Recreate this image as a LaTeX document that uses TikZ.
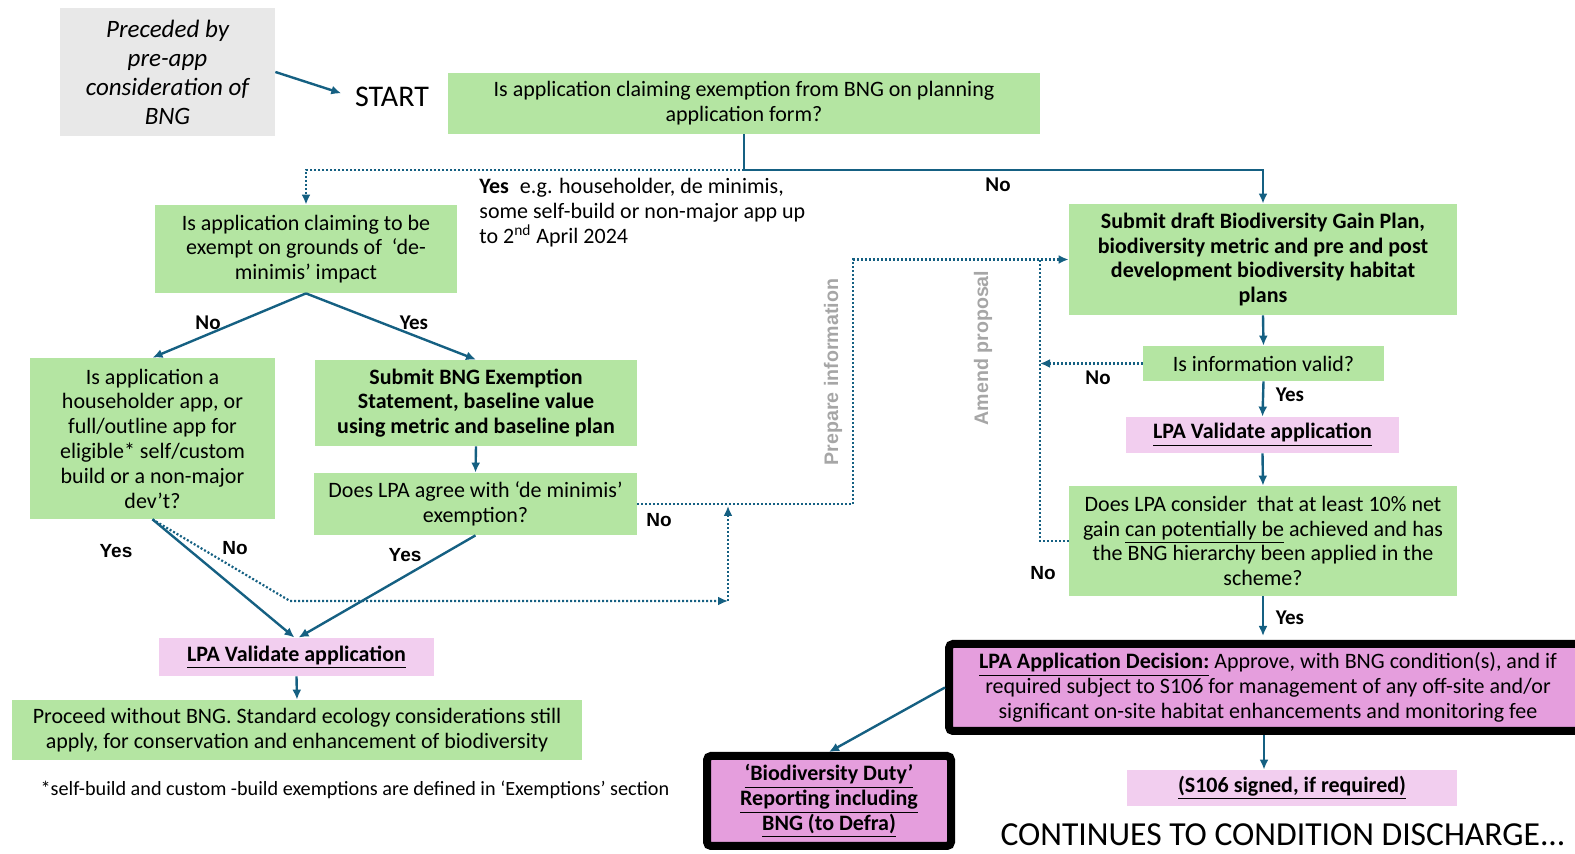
\documentclass[tikz,border=0pt]{standalone}
\usepackage{fontspec}
\setmainfont{Carlito}
\newfontfamily\arialfont{Liberation Sans}
\usetikzlibrary{arrows.meta}
\definecolor{boxgreen}{HTML}{B4E5A2}
\definecolor{boxpink}{HTML}{F2CEEF}
\definecolor{boxmagenta}{HTML}{E59EDD}
\definecolor{boxgray}{HTML}{E8E8E8}
\definecolor{flowblue}{HTML}{156082}
\definecolor{notegray}{HTML}{A6A6A6}

\begin{document}
\begin{tikzpicture}[x=0.5pt,y=-0.5pt,
  greenbox/.style={fill=boxgreen,align=center,inner sep=0pt,font=\fontsize{11}{12.4}\selectfont},
  bgreen/.style={greenbox,font=\fontsize{11}{12.4}\selectfont\bfseries},
  pinkbox/.style={fill=boxpink,align=center,inner sep=0pt,font=\fontsize{11}{12.4}\selectfont\bfseries},
  thickbox/.style={fill=boxmagenta,draw=black,line width=4pt,rounded corners=2pt,align=center,inner sep=0pt,font=\fontsize{11}{12.4}\selectfont},
  flow/.style={draw=flowblue,line width=1.2pt,-{Latex[length=5pt,width=4.5pt]}},
  dflow/.style={draw=flowblue,line width=1.1pt,dash pattern=on 1pt off 1pt,-{Latex[length=5pt,width=4.5pt]}},
  lbl/.style={font=\fontsize{10.5}{12}\selectfont\bfseries},
  albl/.style={font=\arialfont\fontsize{9.5}{11}\selectfont\bfseries},
  side/.style={font=\arialfont\fontsize{9.8}{11}\selectfont\bfseries,text=notegray,rotate=90}]

\node[fill=boxgray,minimum width=107.5pt,minimum height=64pt,align=center,font=\fontsize{12.5}{14.5}\selectfont\itshape] (pre) at (167.5,72) {Preceded by\\pre-app\\consideration of\\BNG};
\node[font=\fontsize{15}{18}\selectfont,inner sep=1pt] (start) at (392,97) {START};
\node[greenbox,minimum width=296pt,minimum height=30.5pt] (exempt) at (744,103.5) {Is application claiming exemption from BNG on planning\\application form?};
\node[greenbox,minimum width=151pt,minimum height=44pt] (deminimis) at (306,249) {Is application claiming to be\\exempt on grounds of \ ‘de-\\minimis’ impact};
\node[greenbox,minimum width=122.5pt,minimum height=80.5pt] (house) at (152.5,438.5) {Is application a\\householder app, or\\full/outline app for\\eligible* self/custom\\build or a non-major\\dev’t?};
\node[bgreen,minimum width=161pt,minimum height=43pt] (stmt) at (476,403) {Submit BNG Exemption\\Statement, baseline value\\using metric and baseline plan};
\node[greenbox,minimum width=161.5pt,minimum height=31pt] (agree) at (475.5,504) {Does LPA agree with ‘de minimis’\\exemption?};
\node[pinkbox,minimum width=137.5pt,minimum height=19pt] (valid1) at (296.5,657) {\underline{LPA Validate application}};
\node[greenbox,minimum width=285pt,minimum height=30pt] (proceed) at (297,730) {Proceed without BNG. Standard ecology considerations still\\apply, for conservation and enhancement of biodiversity};
\node[font=\fontsize{10.1}{12}\selectfont] (footnote) at (355,790) {*self-build and custom -build exemptions are defined in ‘Exemptions’ section};

\node[bgreen,minimum width=194pt,minimum height=55.5pt] (gainplan) at (1263,259.5) {Submit draft Biodiversity Gain Plan,\\biodiversity metric and pre and post\\development biodiversity habitat\\plans};
\node[greenbox,minimum width=120.5pt,minimum height=17.5pt] (info) at (1263.5,363.5) {Is information valid?};
\node[pinkbox,minimum width=136.5pt,minimum height=18pt] (valid2) at (1262.5,435) {\underline{LPA Validate application}};
\node[greenbox,minimum width=194pt,minimum height=55pt] (netgain) at (1263,541) {Does LPA consider \ that at least 10\% net\\gain \underline{can potentially be} achieved and has\\the BNG hierarchy been applied in the\\scheme?};
\node[thickbox,minimum width=319pt,minimum height=43.5pt] (decision) at (1268,687.5) {\underline{\textbf{LPA Application Decision:}} Approve, with BNG condition(s), and if\\required subject to S106 for management of any off-site and/or\\significant on-site habitat enhancements and monitoring fee};
\node[thickbox,font=\fontsize{11}{12.4}\selectfont\bfseries,minimum width=122pt,minimum height=45pt] (duty) at (829,801) {\underline{‘Biodiversity Duty’}\\\underline{Reporting including}\\\underline{BNG (to Defra)}};
\node[pinkbox,minimum width=165pt,minimum height=18pt] (s106) at (1292,788) {\underline{(S106 signed, if required)}};
\node[font=\fontsize{16.8}{19}\selectfont] (continues) at (1283,835) {CONTINUES TO CONDITION DISCHARGE...};

\coordinate (split) at (744,170);
\coordinate (kink) at (290,601);
\coordinate (corner) at (728,601);
\coordinate (join) at (728,506);
\coordinate (prep) at (853,259.5);
\coordinate (amend) at (1040,259.5);

\draw[flow,shorten >=6pt] (pre.east) -- (start.west);
\draw[flow] (exempt.south) -- (split) -| (gainplan.north);
\draw[dflow] (split) -| (deminimis.north);
\draw[flow] (deminimis.south) -- (house.north);
\draw[flow] (deminimis.south) -- (stmt.north);
\draw[flow] (stmt.south) -- (agree.north);
\draw[flow] (house.south) -- ([xshift=-1pt]valid1.north);
\draw[flow] (agree.south) -- ([xshift=1pt]valid1.north);
\draw[flow] (valid1.south) -- (proceed.north);
\draw[dflow] (house.south) -- (kink) -- (corner);
\draw[dflow] (corner) -- (join);
\draw[dflow] (agree.east) -| (prep) -- (gainplan.west);
\draw[flow] (gainplan.south) -- (info.north);
\draw[dflow] (info.west) -- (info.west -| amend);
\draw[dflow,-] (netgain.west) -| (amend);
\draw[flow] (info.south) -- (valid2.north);
\draw[flow] (valid2.south) -- (netgain.north);
\draw[flow,shorten >=2pt] (netgain.south) -- (netgain.south |- decision.north);
\draw[flow] (decision.west) -- (duty.north);
\draw[flow] ([xshift=-2pt]decision.south) -- ([xshift=-2pt]decision.south |- s106.north);

\node[lbl] (noright) at (998,185) {No};
\node[font=\fontsize{11}{12.5}\selectfont,align=left,anchor=north west,inner sep=0pt] (yesnote) at (479,178) {\textbf{Yes}\enspace e.g. householder, de minimis,\\some self-build or non-major app up\\to 2\textsuperscript{nd} April 2024};
\node[lbl] (nohouse) at (208,323) {No};
\node[lbl] (yesstmt) at (414,323) {Yes};
\node[albl] (yeshouse) at (116,551) {Yes};
\node[albl] (nodotted) at (235,548) {No};
\node[albl] (yesagree) at (405,555) {Yes};
\node[albl] (noagree) at (659,520) {No};
\node[lbl] (noinfo) at (1098,378) {No};
\node[lbl] (yesinfo) at (1290,395) {Yes};
\node[albl] (nonet) at (1043,573) {No};
\node[lbl] (yesnet) at (1290,618) {Yes};
\node[side] (prepare) at (833,372) {Prepare information};
\node[side] (amendlbl) at (983,348) {Amend proposal};

\pgfresetboundingbox
\useasboundingbox (0,0) rectangle (1575,854);
\end{tikzpicture}
\end{document}
